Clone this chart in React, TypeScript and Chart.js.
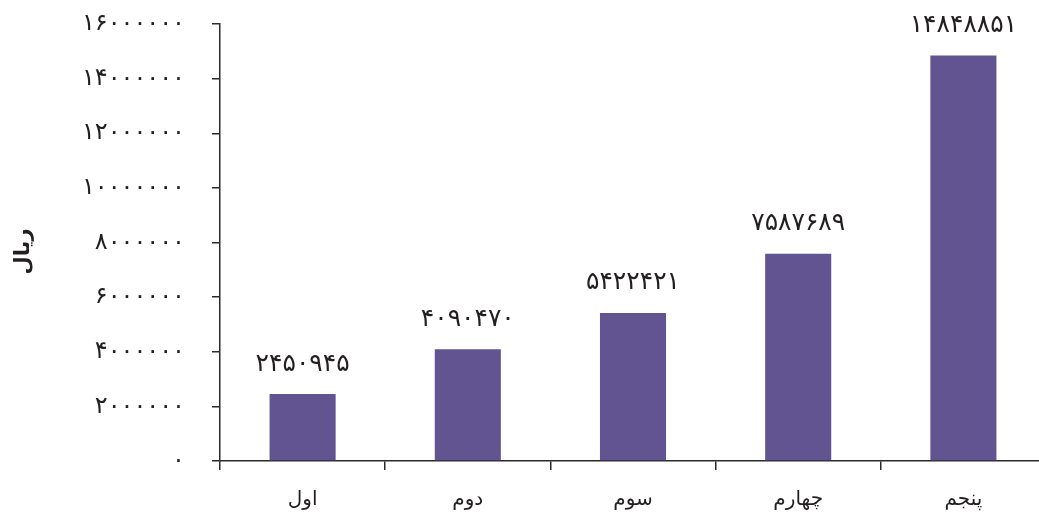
import React, { useEffect, useRef } from "react";
import { Chart, registerables } from "chart.js";

Chart.register(...registerables);

// Categories (rank) and the value of each, in rial
const categories = ["اول", "دوم", "سوم", "چهارم", "پنجم"];
const values = [2450945, 4090470, 5422421, 7587689, 14848851];
const yTicks = [0, 2000000, 4000000, 6000000, 8000000, 10000000, 12000000, 14000000, 16000000];
const yTitle = "ریال";

const barColor = "#625491";
const axisColor = "#2a2a2a";
const textColor = "#231f20";
const fontFamily = "'DejaVu Sans', sans-serif";

const faDigits = "۰۱۲۳۴۵۶۷۸۹";
const toFa = (n: number) => String(n).replace(/\d/g, (d) => faDigits[Number(d)]);

// Value above each bar, plus the rotated unit title beside the value axis
const annotations = {
  id: "annotations",
  afterDatasetsDraw(chart: any) {
    const { ctx, chartArea } = chart;
    const meta = chart.getDatasetMeta(0);
    ctx.save();
    ctx.font = `25px ${fontFamily}`;
    ctx.fillStyle = textColor;
    ctx.textAlign = "center";
    ctx.textBaseline = "middle";
    meta.data.forEach((bar: any, i: number) => {
      ctx.fillText(toFa(values[i]), bar.x, bar.y - 30);
    });

    const cy = (chartArea.top + chartArea.bottom) / 2 + 9;
    ctx.translate(24, cy);
    ctx.rotate(-Math.PI / 2);
    ctx.font = `bold 21px ${fontFamily}`;
    ctx.fillText(yTitle, 0, 0);
    ctx.restore();
  },
};

export default function App() {
  const canvasRef = useRef<HTMLCanvasElement>(null);

  useEffect(() => {
    const chart = new Chart(canvasRef.current!, {
      type: "bar",
      data: {
        labels: categories,
        datasets: [
          {
            data: values,
            backgroundColor: barColor,
            categoryPercentage: 1,
            barPercentage: 0.4,
          },
        ],
      },
      options: {
        responsive: false,
        animation: false,
        layout: { padding: { top: 24, right: 0, left: 0, bottom: 0 } },
        plugins: { legend: { display: false }, tooltip: { enabled: false } },
        scales: {
          x: {
            grid: {
              drawOnChartArea: false,
              drawTicks: true,
              tickLength: 9,
              color: axisColor,
              lineWidth: 1.5,
              offset: true,
            },
            border: { color: axisColor, width: 1.5 },
            ticks: {
              color: textColor,
              font: { family: fontFamily, size: 20 },
              padding: 18,
            },
            afterFit: (scale: any) => {
              scale.height = 62;
              scale.paddingLeft = 0;
              scale.paddingRight = 0;
            },
          },
          y: {
            min: 0,
            max: 16000000,
            afterBuildTicks: (scale: any) => {
              scale.ticks = yTicks.map((v) => ({ value: v }));
            },
            grid: {
              drawOnChartArea: false,
              drawTicks: true,
              tickLength: 8,
              color: axisColor,
              lineWidth: 1.5,
            },
            border: { color: axisColor, width: 1.5 },
            ticks: {
              color: textColor,
              font: { family: fontFamily, size: 24 },
              padding: 27,
              callback: (v: any) => toFa(Number(v)),
            },
            afterFit: (scale: any) => {
              scale.width = 220;
              scale.paddingTop = 0;
              scale.paddingBottom = 0;
            },
          },
        },
      },
      plugins: [annotations],
    });
    return () => chart.destroy();
  }, []);

  return (
    <div
      style={{
        position: "fixed",
        left: 0,
        top: 0,
        width: 1039,
        height: 523,
        overflow: "hidden",
        background: "#fff",
      }}
    >
      <canvas ref={canvasRef} width={1046} height={523} />
    </div>
  );
}
